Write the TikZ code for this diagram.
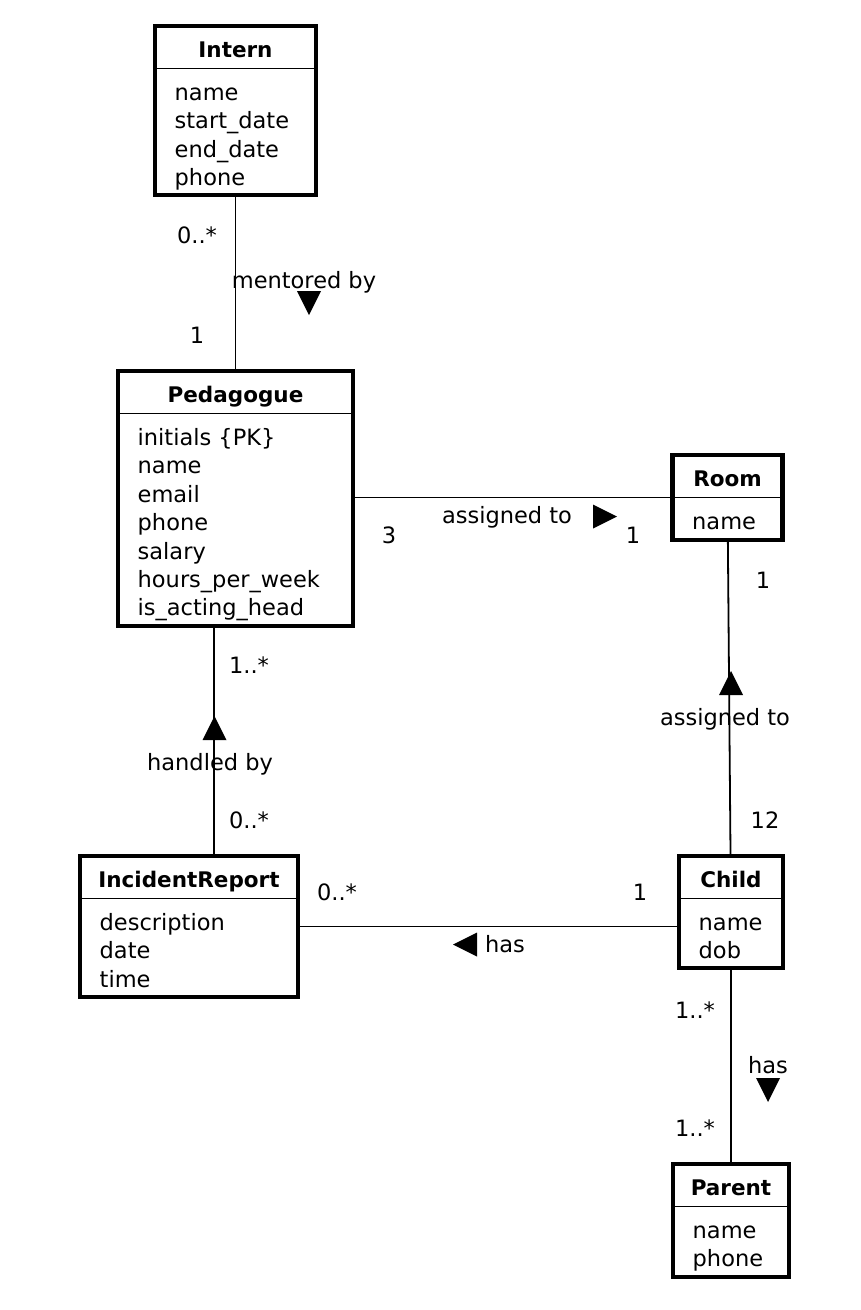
\documentclass[tikz,border=0pt]{standalone}
\usepackage{fontspec}
\setmainfont{DejaVu Sans}
\usetikzlibrary{calc,positioning}

\begin{document}
\begin{tikzpicture}[x=1pt,y=-1pt,
  classbox/.style={draw,line width=4.5pt,inner sep=0pt,outer sep=0pt},
  classname/.style={font=\fontsize{21.5}{26}\selectfont\bfseries,anchor=base,inner sep=0pt},
  attrlist/.style={font=\fontsize{22.5}{28.4}\selectfont,anchor=base west,align=left,inner sep=0pt},
  lbl/.style={font=\fontsize{22.5}{27}\selectfont,anchor=base,inner sep=0pt},
  assoc/.style={line width=1.8pt},
  sepline/.style={line width=1.5pt},
  dirtri/.pic={\fill[rotate=#1] (-12,12) -- (-12,-12) -- (12,0) -- cycle;}]
  \fill[white] (0,0) rectangle (860,1310);

  % classes
  \node[classbox,minimum width=161pt,minimum height=169pt] (intern) at (235.5,110.5) {};
  \node[classbox,minimum width=235pt,minimum height=255pt] (peda) at (235.5,498.5) {};
  \node[classbox,minimum width=110pt,minimum height=85pt] (room) at (727.5,497.5) {};
  \node[classbox,minimum width=218pt,minimum height=141pt] (report) at (189,926.5) {};
  \node[classbox,minimum width=104pt,minimum height=112pt] (child) at (731,912) {};
  \node[classbox,minimum width=116pt,minimum height=113pt] (parent) at (731,1220.5) {};

  \node[classname] (intern-name) at ($(intern.north)+(0,31)$) {Intern};
  \node[classname] (peda-name) at ($(peda.north)+(0,31)$) {Pedagogue};
  \node[classname] (room-name) at ($(room.north)+(0,31)$) {Room};
  \node[classname] (report-name) at ($(report.north)+(0,31)$) {IncidentReport};
  \node[classname] (child-name) at ($(child.north)+(0,31)$) {Child};
  \node[classname] (parent-name) at ($(parent.north)+(0,31)$) {Parent};

  \foreach \c in {intern,peda,room,report,child,parent}
    \draw[sepline] ($(\c.north west)+(0,42.5)$) -- ($(\c.north east)+(0,42.5)$);

  % base of a list is its last line
  \node[attrlist] (intern-attr) at ($(intern.north west)+(19.5,159.7)$) {name\\start\_date\\end\_date\\phone};
  \node[attrlist] (peda-attr) at ($(peda.north west)+(19.5,244.9)$) {initials \{PK\}\\name\\email\\phone\\salary\\hours\_per\_week\\is\_acting\_head};
  \node[attrlist] (room-attr) at ($(room.north west)+(19.5,74.5)$) {name};
  \node[attrlist] (report-attr) at ($(report.north west)+(19.5,131.3)$) {description\\date\\time};
  \node[attrlist] (child-attr) at ($(child.north west)+(19.5,102.9)$) {name\\dob};
  \node[attrlist] (parent-attr) at ($(parent.north west)+(19.5,102.9)$) {name\\phone};

  % associations
  \coordinate (handled) at (214,0);
  \draw[assoc] (intern) -- (peda);
  \draw[assoc] (room.west -| peda.east) -- (room.west);
  \draw[assoc] (room) -- (child);
  \draw[assoc] (handled |- peda.south) -- (handled |- report.north);
  \draw[assoc] (report.east) -- (report.east -| child.west);
  \draw[assoc] (child) -- (parent);

  % Intern -- Pedagogue
  \node[lbl] (mentor-many) at (197,243) {0..*};
  \node[lbl] (mentor-one) at (197,343) {1};
  \node[lbl] (mentor-label) at (304,288) {mentored by};
  \pic at (309,303) {dirtri=270};

  % Pedagogue -- Room
  \node[lbl] (room-many) at (389,543) {3};
  \node[lbl] (room-one) at (633,543) {1};
  \node[lbl] (room-label) at (507,523) {assigned to};
  \pic at (605,516.5) {dirtri=0};

  % Child -- Room
  \node[lbl] (child-one) at (763,588) {1};
  \node[lbl] (child-many) at (765,828) {12};
  \node[lbl] (child-label) at (725,725) {assigned to};
  \pic at (731,683) {dirtri=90};

  % IncidentReport -- Pedagogue
  \node[lbl] (handle-one) at (249,673) {1..*};
  \node[lbl] (handle-many) at (249,828) {0..*};
  \node[lbl] (handle-label) at (210,770) {handled by};
  \pic at (214.5,728) {dirtri=90};

  % Child -- IncidentReport
  \node[lbl] (report-many) at (337,900) {0..*};
  \node[lbl] (report-one) at (640,900) {1};
  \node[lbl] (report-label) at (505,952) {has};
  \pic at (465,944.5) {dirtri=180};

  % Child -- Parent
  \node[lbl] (parent-up) at (695,1018) {1..*};
  \node[lbl] (parent-down) at (695,1136) {1..*};
  \node[lbl] (parent-label) at (768,1073) {has};
  \pic at (768,1090) {dirtri=270};
\end{tikzpicture}
\end{document}
